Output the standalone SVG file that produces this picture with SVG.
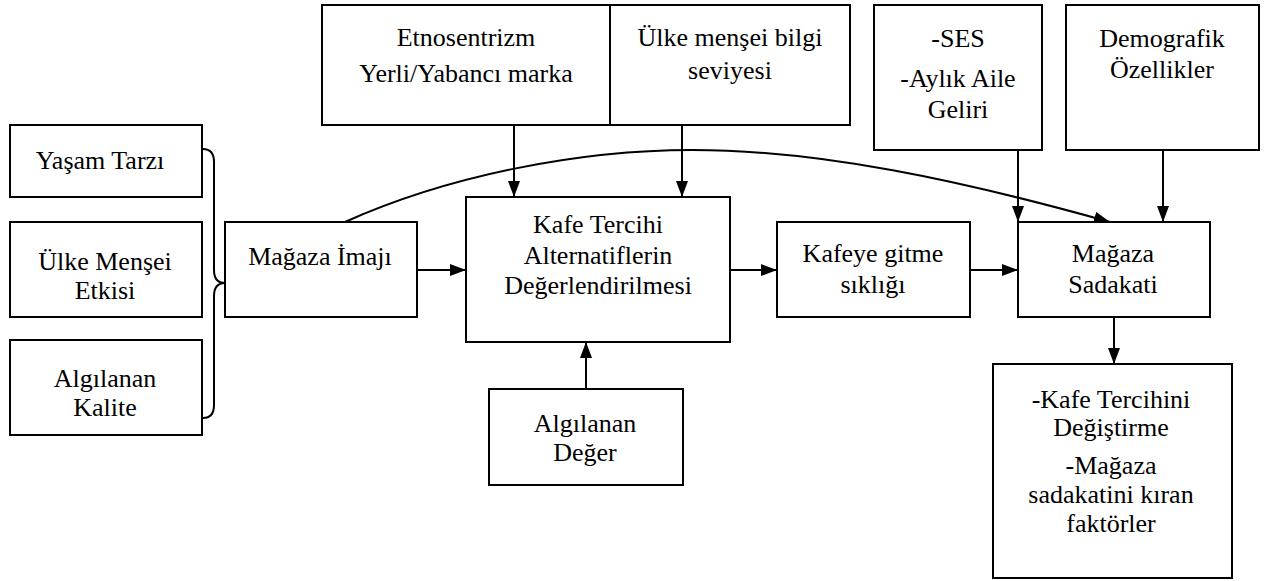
<svg xmlns="http://www.w3.org/2000/svg" width="1272" height="581" viewBox="0 0 1272 581">
  <style>
    .box { fill: #fff; stroke: #000; stroke-width: 2; }
    text { font-family: "Liberation Serif", "Times New Roman", serif; font-size: 26px; fill: #000; text-anchor: middle; }
    .wire { fill: none; stroke: #000; stroke-width: 2; }
  </style>
  <defs>
    <marker id="arrow" markerUnits="userSpaceOnUse" markerWidth="16" markerHeight="12" refX="16" refY="6" orient="auto">
      <path d="M0,0 L16,6 L0,12 z" fill="#000"/>
    </marker>
  </defs>
  <rect width="1272" height="581" fill="#fff"/>

  <!-- connectors -->
  <g id="connectors" class="wire">
    <!-- brace grouping the three left factors -->
    <path d="M203,149 Q214,149 214,162 L214,270 Q214,283 225,283 Q214,283 214,296 L214,405 Q214,418 203,418"/>
    <line x1="417" y1="270" x2="466" y2="270" marker-end="url(#arrow)"/>
    <line x1="730" y1="270" x2="777" y2="270" marker-end="url(#arrow)"/>
    <line x1="970" y1="270" x2="1018" y2="270" marker-end="url(#arrow)"/>
    <line x1="514" y1="125" x2="514" y2="197" marker-end="url(#arrow)"/>
    <line x1="682" y1="125" x2="682" y2="197" marker-end="url(#arrow)"/>
    <line x1="1018" y1="150" x2="1018" y2="222" marker-end="url(#arrow)"/>
    <line x1="1163" y1="150" x2="1163" y2="222" marker-end="url(#arrow)"/>
    <line x1="586" y1="389" x2="586" y2="342" marker-end="url(#arrow)"/>
    <line x1="1114" y1="317" x2="1114" y2="364" marker-end="url(#arrow)"/>
    <path d="M345,222 C450,175 580,150 692,150 C820,150 960,180 1110,222" marker-end="url(#arrow)"/>
  </g>

  <g id="yasam-tarzi">
    <rect class="box" x="10" y="125" width="192" height="72"/>
    <text x="100" y="169">Yaşam Tarzı</text>
  </g>
  <g id="ulke-mensei-etkisi">
    <rect class="box" x="10" y="222" width="192" height="95"/>
    <text x="105" y="270">Ülke Menşei</text>
    <text x="105" y="299">Etkisi</text>
  </g>
  <g id="algilanan-kalite">
    <rect class="box" x="10" y="340" width="192" height="95"/>
    <text x="105" y="387">Algılanan</text>
    <text x="105" y="416">Kalite</text>
  </g>
  <g id="magaza-imaji">
    <rect class="box" x="225" y="222" width="192" height="95"/>
    <text x="320" y="265">Mağaza İmajı</text>
  </g>
  <g id="etnosentrizm">
    <rect class="box" x="322" y="5" width="288" height="120"/>
    <text x="466" y="46">Etnosentrizm</text>
    <text x="466" y="82">Yerli/Yabancı marka</text>
  </g>
  <g id="ulke-mensei-bilgi">
    <rect class="box" x="610" y="5" width="240" height="120"/>
    <text x="730" y="46">Ülke menşei bilgi</text>
    <text x="730" y="79">seviyesi</text>
  </g>
  <g id="ses">
    <rect class="box" x="874" y="5" width="168" height="145"/>
    <text x="958" y="47">-SES</text>
    <text x="958" y="87">-Aylık Aile</text>
    <text x="958" y="118">Geliri</text>
  </g>
  <g id="demografik">
    <rect class="box" x="1066" y="5" width="193" height="145"/>
    <text x="1162" y="47">Demografik</text>
    <text x="1162" y="78">Özellikler</text>
  </g>
  <g id="kafe-tercihi">
    <rect class="box" x="466" y="197" width="264" height="145"/>
    <text x="598" y="233">Kafe Tercihi</text>
    <text x="598" y="264">Alternatiflerin</text>
    <text x="598" y="294">Değerlendirilmesi</text>
  </g>
  <g id="algilanan-deger">
    <rect class="box" x="489" y="389" width="194" height="96"/>
    <text x="585" y="432">Algılanan</text>
    <text x="585" y="461">Değer</text>
  </g>
  <g id="kafeye-gitme">
    <rect class="box" x="777" y="222" width="193" height="95"/>
    <text x="873" y="262">Kafeye gitme</text>
    <text x="873" y="293">sıklığı</text>
  </g>
  <g id="magaza-sadakati">
    <rect class="box" x="1018" y="222" width="192" height="95"/>
    <text x="1113" y="262">Mağaza</text>
    <text x="1113" y="293">Sadakati</text>
  </g>
  <g id="sadakat-kiran">
    <rect class="box" x="993" y="364" width="239" height="214"/>
    <text x="1111" y="408">-Kafe Tercihini</text>
    <text x="1111" y="436">Değiştirme</text>
    <text x="1111" y="474">-Mağaza</text>
    <text x="1111" y="503">sadakatini kıran</text>
    <text x="1111" y="532">faktörler</text>
  </g>
</svg>
